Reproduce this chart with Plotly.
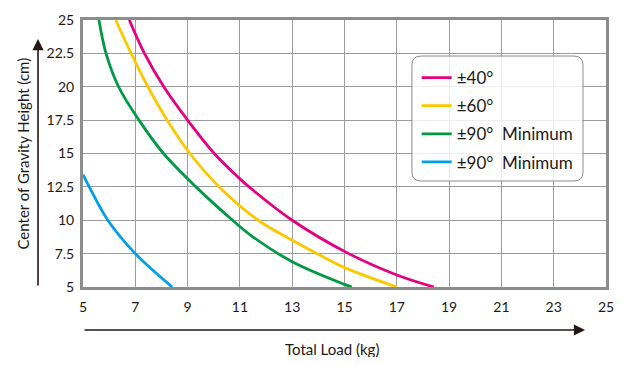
import plotly.graph_objects as go

# ---- data ----
x_40 = [6.77, 7.35, 8.09, 9.0, 10.02, 11.0, 11.35, 13.0, 15.16, 17.0, 18.42]
y_40 = [25.0, 22.5, 20.0, 17.5, 15.0, 13.1, 12.5, 10.0, 7.5, 5.9, 5.0]

x_60 = [6.25, 6.84, 7.48, 8.22, 9.09, 10.21, 11.7, 13.0, 14.0, 15.0, 17.0]
y_60 = [25.0, 22.5, 20.0, 17.5, 15.0, 12.5, 10.0, 8.5, 7.45, 6.45, 5.0]

x_90a = [5.61, 5.88, 6.36, 7.14, 8.08, 9.32, 10.72, 11.48, 13.0, 15.0, 15.28]
y_90a = [25.0, 22.5, 20.0, 17.5, 15.0, 12.5, 10.0, 8.78, 6.9, 5.2, 5.0]

x_90b = [5.0, 5.24, 5.95, 7.0, 8.41]
y_90b = [13.42, 12.5, 10.0, 7.5, 5.0]

names = ["±40°", "±60°", "±90°\u00a0\u00a0Minimum", "±90°\u00a0\u00a0Minimum"]
colors = ["#E4007F", "#FCC800", "#009944", "#00A0E9"]

x_ticks = [5, 7, 9, 11, 13, 15, 17, 19, 21, 23, 25]
y_ticks = [5, 7.5, 10, 12.5, 15, 17.5, 20, 22.5, 25]
y_ticktext = ["5", "7.5", "10", "12.5", "15", "17.5", "20", "22.5", "25"]

x_title = "Total Load (kg)"
y_title = "Center of Gravity Height (cm)"

FONT = "Lato"
INK = "#231815"

fig = go.Figure()
series = [(x_40, y_40), (x_60, y_60), (x_90a, y_90a), (x_90b, y_90b)]
for i, ((xs, ys), nm, c) in enumerate(zip(series, names, colors)):
    fig.add_trace(go.Scatter(
        x=xs, y=ys, mode="lines", name=nm, legendgroup=f"g{i}",
        line=dict(color=c, width=2.8, shape="spline", smoothing=1.0),
        cliponaxis=True,
    ))

axis_common = dict(
    showline=True, mirror=True, linewidth=3, linecolor="#8c8c8c",
    showgrid=True, gridcolor="#9c9c9c", gridwidth=1.3,
    zeroline=False, ticks="", fixedrange=True, automargin=False,
    tickfont=dict(family=FONT, size=14, color=INK),
)

fig.update_xaxes(range=[5, 25], tickmode="array", tickvals=x_ticks,
                 ticklabelstandoff=5, **axis_common)
fig.update_yaxes(range=[5, 25], tickmode="array", tickvals=y_ticks,
                 ticktext=y_ticktext, ticklabelstandoff=3, **axis_common)

# rounded legend box (paper coords)
PW, PH = 523.0, 267.0
x0, x1 = 0.629, 0.956
y0, y1 = 0.397, 0.865
rx, ry = 9 / PW, 9 / PH
path = (f"M {x0+rx},{y1} L {x1-rx},{y1} Q {x1},{y1} {x1},{y1-ry} "
        f"L {x1},{y0+ry} Q {x1},{y0} {x1-rx},{y0} L {x0+rx},{y0} "
        f"Q {x0},{y0} {x0},{y0+ry} L {x0},{y1-ry} Q {x0},{y1} {x0+rx},{y1} Z")
fig.add_shape(type="path", path=path, xref="paper", yref="paper",
              line=dict(color="#8a8a8a", width=1),
              fillcolor="rgba(255,255,255,0.82)", layer="above")

annotations = [
    # y-axis arrow
    dict(x=-0.086, y=0.929, xref="paper", yref="paper", text="",
         showarrow=True, ax=0, ay=248, arrowhead=2, arrowsize=1.4,
         arrowwidth=1.6, arrowcolor=INK),
    # x-axis arrow
    dict(x=0.96, y=-0.161, xref="paper", yref="paper", text="",
         showarrow=True, ax=-502, ay=0, arrowhead=2, arrowsize=1.4,
         arrowwidth=1.6, arrowcolor=INK),
    dict(x=-0.1166, y=0.5, xref="paper", yref="paper", text=y_title,
         textangle=-90, showarrow=False, xanchor="center", yanchor="middle",
         font=dict(family=FONT, size=15, color=INK)),
    dict(x=0.476, y=-0.232, xref="paper", yref="paper", text=x_title,
         showarrow=False, xanchor="center", yanchor="middle",
         font=dict(family=FONT, size=15, color=INK)),
]

# page has an 8px body margin: figure is sized/offset to compensate
fig.update_layout(
    width=632, height=349, autosize=False,
    margin=dict(l=75, r=34, t=12, b=70, autoexpand=False),
    paper_bgcolor="white", plot_bgcolor="white",
    font=dict(family=FONT, size=14, color=INK),
    showlegend=True,
    legend=dict(x=0.638, y=0.85, xanchor="left", yanchor="top",
                bgcolor="rgba(0,0,0,0)", borderwidth=0,
                font=dict(family=FONT, size=17, color=INK),
                traceorder="grouped", tracegroupgap=3,
                itemwidth=30),
    annotations=annotations,
)

fig.write_html("out.html")
